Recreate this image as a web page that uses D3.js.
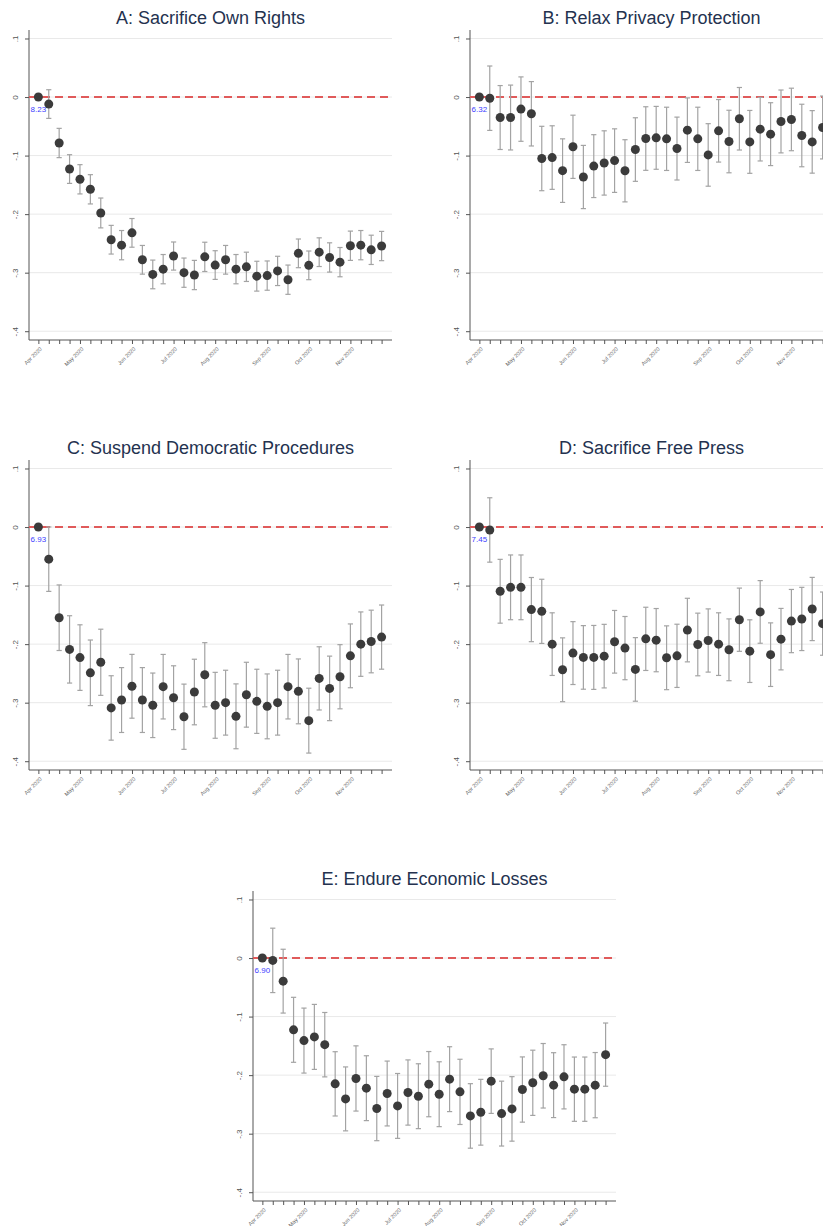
<!DOCTYPE html>
<html><head><meta charset="utf-8">
<script src="https://cdn.jsdelivr.net/npm/d3@7"></script>
<style>body{margin:0;background:#fff;}svg{display:block;}</style>
</head><body>
<svg id="c" width="823" height="1226"></svg>
<script>
// ---- data ----
const weekIndex = d3.range(34);
const tickLabelIdx = [0, 4, 9, 13, 17, 22, 26, 30];
const tickLabels = ["Apr 2020","May 2020","Jun 2020","Jul 2020","Aug 2020","Sep 2020","Oct 2020","Nov 2020"];
const yTicks = [0.1, 0, -0.1, -0.2, -0.3, -0.4];
const yTickLabels = [".1","0","-.1","-.2","-.3","-.4"];

const titles = ["A: Sacrifice Own Rights","B: Relax Privacy Protection","C: Suspend Democratic Procedures","D: Sacrifice Free Press","E: Endure Economic Losses"];
const baselineMeans = ["8.23","6.32","6.93","7.45","6.90"];

const estA = [0,-0.012,-0.0785,-0.123,-0.1405,-0.1576,-0.198,-0.2437,-0.253,-0.232,-0.278,-0.303,-0.294,-0.2716,-0.300,-0.304,-0.273,-0.287,-0.278,-0.294,-0.290,-0.306,-0.305,-0.297,-0.312,-0.267,-0.2875,-0.265,-0.274,-0.282,-0.254,-0.253,-0.261,-0.2545];
const ciA  = [0,0.0245,0.025,0.0245,0.025,0.025,0.0255,0.0245,0.025,0.0245,0.0245,0.0245,0.025,0.024,0.025,0.025,0.025,0.0245,0.0245,0.025,0.025,0.0255,0.025,0.025,0.025,0.0245,0.0245,0.0245,0.025,0.025,0.025,0.025,0.025,0.025];

const estB = [0,-0.002,-0.035,-0.035,-0.0206,-0.0286,-0.105,-0.1034,-0.1257,-0.085,-0.1366,-0.118,-0.1126,-0.1086,-0.126,-0.0897,-0.0709,-0.0697,-0.0714,-0.088,-0.0566,-0.0714,-0.0989,-0.0577,-0.076,-0.0371,-0.0766,-0.0549,-0.0634,-0.0417,-0.0383,-0.0657,-0.0766,-0.052];
const ciB  = [0,0.055,0.0546,0.0554,0.055,0.055,0.055,0.0543,0.0543,0.054,0.054,0.0537,0.0549,0.0543,0.0531,0.0543,0.0543,0.0537,0.054,0.0537,0.0551,0.054,0.0534,0.0534,0.0534,0.0534,0.0537,0.0543,0.0537,0.0537,0.0534,0.0534,0.0534,0.0537];

const estC = [0,-0.0549,-0.1549,-0.209,-0.223,-0.249,-0.231,-0.309,-0.2955,-0.272,-0.2955,-0.3045,-0.2727,-0.2915,-0.324,-0.2818,-0.2523,-0.3045,-0.300,-0.3233,-0.2864,-0.2977,-0.3063,-0.300,-0.2727,-0.2807,-0.3307,-0.2585,-0.2756,-0.2557,-0.220,-0.200,-0.1955,-0.188];
const ciC  = [0,0.055,0.056,0.0575,0.056,0.056,0.0565,0.055,0.0554,0.0545,0.0554,0.0551,0.0551,0.0545,0.0557,0.056,0.0548,0.0563,0.0554,0.0554,0.0554,0.0548,0.0554,0.0554,0.0551,0.0554,0.0554,0.054,0.0551,0.0548,0.0545,0.055,0.0535,0.0548];

const estD = [0,-0.005,-0.1097,-0.103,-0.103,-0.141,-0.144,-0.200,-0.2438,-0.2153,-0.2227,-0.2227,-0.2205,-0.196,-0.2068,-0.2432,-0.191,-0.1932,-0.2233,-0.220,-0.176,-0.2006,-0.1938,-0.200,-0.2097,-0.1583,-0.212,-0.145,-0.218,-0.1915,-0.1606,-0.157,-0.140,-0.165];
const ciD  = [0,0.055,0.0545,0.0553,0.0553,0.0548,0.0548,0.0535,0.0545,0.0537,0.0543,0.0546,0.0543,0.0535,0.054,0.0543,0.054,0.054,0.0545,0.054,0.0543,0.0535,0.054,0.0535,0.0528,0.054,0.0535,0.0535,0.0543,0.0525,0.054,0.054,0.054,0.054];

const estE = [0,-0.004,-0.0395,-0.1226,-0.141,-0.1347,-0.148,-0.2149,-0.2406,-0.2057,-0.2223,-0.2571,-0.2314,-0.2526,-0.2297,-0.236,-0.2154,-0.2326,-0.2069,-0.2286,-0.2697,-0.2634,-0.2103,-0.2657,-0.2577,-0.2246,-0.2131,-0.2011,-0.2171,-0.2029,-0.224,-0.224,-0.2171,-0.165];
const ciE  = [0,0.055,0.0545,0.0555,0.0555,0.0555,0.055,0.0549,0.0546,0.0557,0.0554,0.0549,0.0554,0.0554,0.0557,0.0554,0.0557,0.0554,0.0554,0.0557,0.0551,0.0562,0.0551,0.0554,0.0551,0.0557,0.0557,0.0551,0.0554,0.0548,0.0549,0.0549,0.0557,0.054];

const panels = [
  {est: estA, ci: ciA, ax: 29,  row: 0},
  {est: estB, ci: ciB, ax: 470, row: 0},
  {est: estC, ci: ciC, ax: 29,  row: 430},
  {est: estD, ci: ciD, ax: 470, row: 430},
  {est: estE, ci: ciE, ax: 253, row: 861}
];

// ---- drawing ----
const svg = d3.select("#c");
const W = 363;
const font = "'Liberation Sans', Arial, sans-serif";

panels.forEach((p, i) => {
  const g = svg.append("g");
  const x = d3.scaleLinear().domain([-0.9, 34.0]).range([p.ax, p.ax + W]);
  const y = d3.scaleLinear().domain([-0.415, 0.1145]).range([p.row + 340, p.row + 30]);
  const axisY = y.range()[0];

  // title
  g.append("text").attr("x", p.ax + W / 2).attr("y", p.row + 24)
    .attr("text-anchor", "middle").attr("font-family", font).attr("font-size", 18)
    .attr("fill", "#24324f").text(titles[i]);

  // gridlines
  g.selectAll("line.grid").data(yTicks).join("line").attr("class","grid")
    .attr("x1", p.ax).attr("x2", p.ax + W)
    .attr("y1", d => y(d)).attr("y2", d => y(d))
    .attr("stroke", "#e9e9e9").attr("stroke-width", 1);

  // y axis
  const yAxis = d3.axisLeft(y).tickValues(yTicks).tickSize(4)
    .tickFormat((d, k) => yTickLabels[k]);
  const ya = g.append("g").attr("transform", `translate(${p.ax},0)`).call(yAxis);
  ya.select(".domain").attr("stroke", "#555").attr("d", `M0,${y.range()[1]}V${axisY}`);
  ya.selectAll(".tick line").attr("stroke", "#555");
  ya.selectAll(".tick text").attr("font-family", font).attr("font-size", 8).attr("fill", "#555")
    .attr("x", null).attr("dy", null).attr("text-anchor", "middle")
    .attr("transform", "translate(-14,0) rotate(-90)")
    .attr("dominant-baseline", "central");

  // x axis
  const xAxis = d3.axisBottom(x).tickValues(weekIndex).tickSize(4).tickFormat(d => {
    const k = tickLabelIdx.indexOf(d); return k >= 0 ? tickLabels[k] : "";
  });
  const xa = g.append("g").attr("transform", `translate(0,${axisY})`).call(xAxis);
  xa.select(".domain").attr("stroke", "#555").attr("d", `M${p.ax},0H${p.ax + W}`);
  xa.selectAll(".tick line").attr("stroke", "#555");
  xa.selectAll(".tick text").attr("font-family", font).attr("font-size", 5.5).attr("fill", "#666")
    .attr("y", null).attr("dy", null).attr("text-anchor", "end")
    .attr("transform", "translate(2,8) rotate(-45)")
    .attr("dominant-baseline", "central");

  // zero reference
  g.append("line").attr("x1", p.ax).attr("x2", p.ax + W)
    .attr("y1", y(0)).attr("y2", y(0))
    .attr("stroke", "#e05a5a").attr("stroke-width", 2).attr("stroke-dasharray", "8,5");

  // error bars
  const data = p.est.map((v, k) => ({k, v, c: p.ci[k]}));
  const eb = g.selectAll("g.eb").data(data.filter(d => d.c > 0)).join("g").attr("class","eb")
    .attr("stroke", "#a3a3a3").attr("stroke-width", 1.2);
  eb.append("line").attr("x1", d => x(d.k)).attr("x2", d => x(d.k))
    .attr("y1", d => y(d.v + d.c)).attr("y2", d => y(d.v - d.c));
  eb.append("line").attr("x1", d => x(d.k) - 2.6).attr("x2", d => x(d.k) + 2.6)
    .attr("y1", d => y(d.v + d.c)).attr("y2", d => y(d.v + d.c));
  eb.append("line").attr("x1", d => x(d.k) - 2.6).attr("x2", d => x(d.k) + 2.6)
    .attr("y1", d => y(d.v - d.c)).attr("y2", d => y(d.v - d.c));

  // points
  g.selectAll("circle").data(data).join("circle")
    .attr("cx", d => x(d.k)).attr("cy", d => y(d.v)).attr("r", 4.5)
    .attr("fill", "#3b3b3b");

  // baseline mean label
  g.append("text").attr("x", x(0)).attr("y", y(0) + 12)
    .attr("text-anchor", "middle").attr("dominant-baseline", "central")
    .attr("font-family", font).attr("font-size", 8).attr("fill", "#3d3dff")
    .text(baselineMeans[i]);
});
</script>
</body></html>
